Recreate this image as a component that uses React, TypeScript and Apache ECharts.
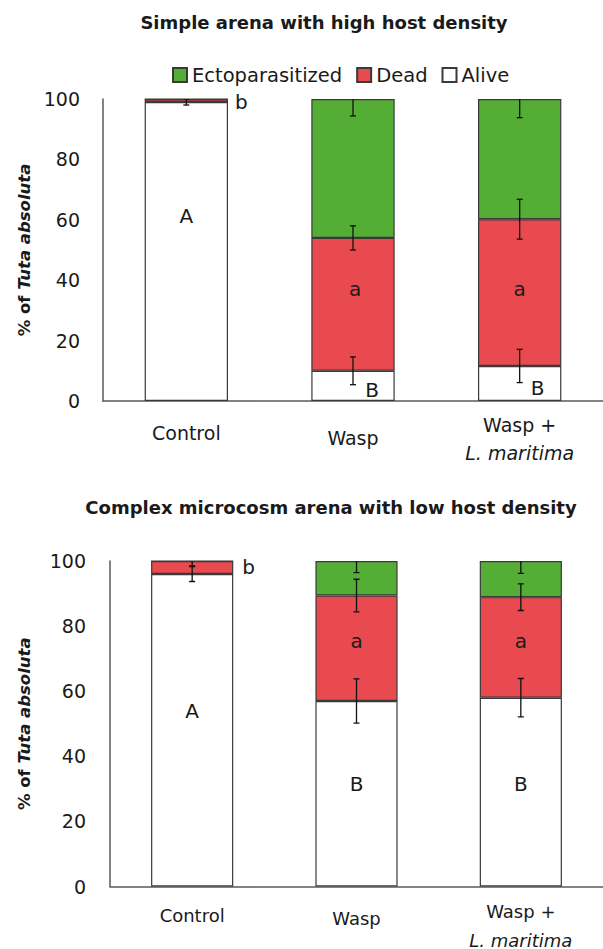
import React, { useEffect, useRef } from 'react';
import * as echarts from 'echarts';

// ---------- data ----------
const categories = ['Control', 'Wasp', 'Wasp + L. maritima'];
const seriesNames = ['Ectoparasitized', 'Dead', 'Alive'];

// Panel 1: Simple arena with high host density
const topAlive = [99, 10, 11.6];
const topDead = [1, 44, 48.6];
const topEcto = [0, 46, 39.8];
const topAliveErr = [1, 4.6, 5.5];
const topDeadErr = [0, 4, 6.6];
const topEctoErr = [0, 5.6, 6.2];
const topAliveLetters = ['A', 'B', 'B'];
const topDeadLetters = ['b', 'a', 'a'];

// Panel 2: Complex microcosm arena with low host density
const botAlive = [96, 57, 58];
const botDead = [4, 32.4, 30.9];
const botEcto = [0, 10.6, 11.1];
const botAliveErr = [2.3, 6.8, 5.9];
const botDeadErr = [1.5, 5, 4.1];
const botEctoErr = [0, 3.6, 3.8];
const botAliveLetters = ['A', 'B', 'B'];
const botDeadLetters = ['b', 'a', 'a'];

const titles = ['Simple arena with high host density', 'Complex microcosm arena with low host density'];

// ---------- styles ----------
const FONT = '"DejaVu Sans", sans-serif';
const TXT = '#1a1a1a';
const GREEN = '#54ae35';
const RED = '#e84a4f';
const BORDER = '#3a3a3a';
const AXIS = '#5a5a5a';
const LETTER_SIZE = 20;

// label offsets (styling only)
const topAliveOffsets = [[0, -36], [19, 4], [18, 5]];
const topDeadOffsets = [[0, 1], [2, -15], [0, -4]];
const botAliveOffsets = [[0, -19], [0, -10], [0, -8]];
const botDeadOffsets = [[0, -1], [0, -7], [0, -6]];

function errData(values: number[], base: number[][], err: number[]) {
  const out: number[][] = [];
  values.forEach((v, i) => {
    let c = v;
    base.forEach((b) => (c += b[i]));
    if (err[i] > 0) out.push([i, c - err[i], c + err[i]]);
  });
  return out;
}

function renderErr(params: any, api: any) {
  const x = api.value(0);
  const p1 = api.coord([x, api.value(1)]);
  const p2 = api.coord([x, api.value(2)]);
  const cap = 3;
  const style = { stroke: '#111', lineWidth: 1.3 };
  return {
    type: 'group',
    children: [
      { type: 'line', shape: { x1: p1[0], y1: p1[1], x2: p2[0], y2: p2[1] }, style },
      { type: 'line', shape: { x1: p1[0] - cap, y1: p1[1], x2: p1[0] + cap, y2: p1[1] }, style },
      { type: 'line', shape: { x1: p2[0] - cap, y1: p2[1], x2: p2[0] + cap, y2: p2[1] }, style },
    ],
  };
}

function letterData(values: number[], letters: string[], offsets: number[][], firstRight: boolean, dist: number) {
  return values.map((v, i) => ({
    value: v,
    label: {
      show: true,
      formatter: letters[i],
      position: firstRight && i === 0 ? 'right' : 'inside',
      distance: dist,
      offset: offsets[i],
      color: TXT,
      fontFamily: FONT,
      fontSize: LETTER_SIZE,
    },
  }));
}

function panelSeries(
  idx: number,
  alive: number[], dead: number[], ecto: number[],
  aliveErr: number[], deadErr: number[], ectoErr: number[],
  aliveLetters: string[], deadLetters: string[],
  aliveOff: number[][], deadOff: number[][], bDist: number,
) {
  const stack = 'stack' + idx;
  const common = {
    type: 'bar',
    stack,
    xAxisIndex: idx,
    yAxisIndex: idx,
    barWidth: '50%',
  };
  return [
    {
      ...common,
      name: 'Alive',
      data: letterData(alive, aliveLetters, aliveOff, false, 5),
      itemStyle: { color: '#ffffff', borderColor: BORDER, borderWidth: 1.2 },
    },
    {
      ...common,
      name: 'Dead',
      data: letterData(dead, deadLetters, deadOff, true, bDist),
      itemStyle: { color: RED, borderColor: BORDER, borderWidth: 1.2 },
    },
    {
      ...common,
      name: 'Ectoparasitized',
      data: ecto,
      itemStyle: { color: GREEN, borderColor: BORDER, borderWidth: 1.2 },
    },
    {
      type: 'custom',
      xAxisIndex: idx,
      yAxisIndex: idx,
      clip: true,
      z: 5,
      renderItem: renderErr,
      data: [
        ...errData(alive, [], aliveErr),
        ...errData(dead, [alive], deadErr),
        ...errData(ecto, [alive, dead], ectoErr),
      ],
      encode: { x: 0, y: [1, 2] },
    },
  ];
}

function xAxisLabel(fs: number, margin: number, lh: number, ctrlLH: number, waspLH: number) {
  return {
    margin,
    color: TXT,
    fontFamily: FONT,
    fontSize: fs,
    interval: 0,
    formatter: (v: string, i: number) => {
      if (i === 0) return '{c|' + v + '}';
      if (i === 1) return '{w|' + v + '}';
      return '{n|Wasp +}\n{i|L. maritima}';
    },
    rich: {
      c: { fontFamily: FONT, fontSize: fs, color: TXT, lineHeight: ctrlLH },
      w: { fontFamily: FONT, fontSize: fs, color: TXT, lineHeight: waspLH },
      n: { fontFamily: FONT, fontSize: fs, color: TXT, lineHeight: lh },
      i: { fontFamily: FONT, fontSize: fs, color: TXT, lineHeight: lh, fontStyle: 'italic' },
    },
  };
}

function yAxis(idx: number, margin: number, gap: number) {
  return {
    type: 'value',
    gridIndex: idx,
    min: 0,
    max: 100,
    interval: 20,
    axisLine: { show: true, lineStyle: { color: AXIS, width: 1.5 } },
    axisTick: { show: false },
    splitLine: { show: false },
    axisLabel: { color: TXT, fontFamily: FONT, fontSize: 19, margin },
    name: '{b|% of }{bi|Tuta absoluta}',
    nameLocation: 'middle',
    nameGap: gap,
    nameTextStyle: {
      rich: {
        b: { fontFamily: FONT, fontSize: 16.5, fontWeight: 'bold', color: TXT },
        bi: { fontFamily: FONT, fontSize: 16.5, fontWeight: 'bold', fontStyle: 'italic', color: TXT },
      },
    },
  };
}

export default function App() {
  const ref = useRef<HTMLDivElement>(null);
  useEffect(() => {
    if (!ref.current) return;
    const chart = echarts.init(ref.current, undefined, { renderer: 'svg' });
    const option: any = {
      animation: false,
      backgroundColor: '#ffffff',
      textStyle: { fontFamily: FONT },
      graphic: [
        {
          type: 'text', x: 324, y: 22,
          style: { text: titles[0], font: 'bold 18px ' + FONT, fill: TXT, textAlign: 'center', textVerticalAlign: 'middle' },
        },
        {
          type: 'text', x: 331, y: 507,
          style: { text: titles[1], font: 'bold 18px ' + FONT, fill: TXT, textAlign: 'center', textVerticalAlign: 'middle' },
        },
      ],
      legend: {
        data: seriesNames,
        left: 167,
        top: 60,
        icon: 'rect',
        itemWidth: 14,
        itemHeight: 14,
        itemGap: 14,
        textStyle: { color: TXT, fontFamily: FONT, fontSize: 19.5 },
        selectedMode: false,
      },
      grid: [
        { left: 103, top: 99, width: 502, height: 302 },
        { left: 110, top: 561, width: 500, height: 327 },
      ],
      xAxis: [
        {
          type: 'category', gridIndex: 0, data: categories,
          axisLine: { lineStyle: { color: AXIS, width: 1.5 } },
          axisTick: { show: false },
          axisLabel: xAxisLabel(19, 10, 28, 44, 54),
        },
        {
          type: 'category', gridIndex: 1, data: categories,
          axisLine: { lineStyle: { color: AXIS, width: 1.5 } },
          axisTick: { show: false },
          axisLabel: xAxisLabel(18, 10, 29, 38, 44),
        },
      ],
      yAxis: [yAxis(0, 23, 70), yAxis(1, 24, 77)],
      series: [
        ...panelSeries(0, topAlive, topDead, topEcto, topAliveErr, topDeadErr, topEctoErr,
          topAliveLetters, topDeadLetters, topAliveOffsets, topDeadOffsets, 7),
        ...panelSeries(1, botAlive, botDead, botEcto, botAliveErr, botDeadErr, botEctoErr,
          botAliveLetters, botDeadLetters, botAliveOffsets, botDeadOffsets, 9),
      ],
    };
    chart.setOption(option);
    return () => chart.dispose();
  }, []);
  return <div ref={ref} style={{ position: 'absolute', left: 0, top: 0, width: 603, height: 949 }} />;
}
